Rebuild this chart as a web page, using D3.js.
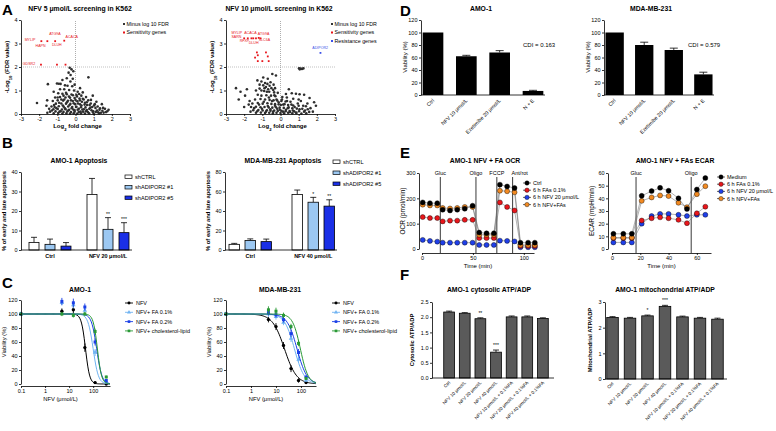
<!DOCTYPE html>
<html><head><meta charset="utf-8">
<script src="https://cdn.jsdelivr.net/npm/d3@7"></script>
<style>body{margin:0;background:#fff}svg{font-family:"Liberation Sans",Arial,sans-serif}</style>
</head><body>
<svg id="c" width="776" height="431"></svg>
<script>
// ---------------- DATA ----------------
// Panel A volcano (log2FC, -log10 FDR)
const VL_BLACK = [[-0.32,1.97],[-0.22,1.90],[-0.12,1.82],[-0.38,1.76],[-0.27,1.66],[-0.48,1.52],[-0.72,1.45],[-1.02,1.30],[-0.92,1.29],[-0.82,1.28],[-1.52,1.27],[-0.58,1.22],[-0.18,1.18],[0.71,1.56],[-2.12,0.47],[-1.56,0.58],[-0.62,1.05],[-0.35,1.02],[-0.08,1.0],[0.12,0.95],
[-0.95,0.88],[-0.72,0.86],[-0.48,0.84],[-0.22,0.83],[0.05,0.82],[0.32,0.78],[0.58,0.72],[-1.12,0.70],[-0.85,0.72],[-0.55,0.70],[-0.30,0.69],[-0.05,0.68],[0.22,0.66],[0.45,0.62],[0.85,0.60],[1.15,0.52],
[-1.25,0.55],[-0.98,0.58],[-0.68,0.57],[-0.42,0.56],[-0.15,0.55],[0.10,0.54],[0.35,0.52],[0.62,0.50],[1.45,0.42],[-1.08,0.44],[-0.78,0.45],[-0.52,0.44],[-0.28,0.43],[-0.02,0.42],[0.25,0.41],[0.50,0.40],[0.78,0.38],[1.02,0.36],
[-1.32,0.32],[-1.15,0.30],[-0.92,0.33],[-0.65,0.31],[-0.40,0.32],[-0.18,0.30],[0.05,0.31],[0.30,0.29],[0.55,0.28],[0.82,0.27],[1.10,0.26],[1.35,0.24],[1.62,0.22],
[-1.22,0.20],[-0.98,0.21],[-0.75,0.19],[-0.55,0.20],[-0.35,0.18],[-0.12,0.19],[0.12,0.18],[0.38,0.19],[0.62,0.17],[0.88,0.16],[1.18,0.15],[1.48,0.14],[1.75,0.12],
[-1.40,0.10],[-1.10,0.11],[-0.88,0.10],[-0.66,0.09],[-0.45,0.11],[-0.25,0.08],[-0.05,0.10],[0.18,0.09],[0.42,0.10],[0.68,0.08],[0.95,0.09],[1.25,0.07],[1.55,0.06],
[-1.20,0.03],[-0.95,0.04],[-0.72,0.02],[-0.50,0.03],[-0.30,0.02],[-0.10,0.03],[0.10,0.02],[0.30,0.03],[0.52,0.02],[0.75,0.03],[1.00,0.02],[1.30,0.03],
[-1.45,0.22],[-1.30,0.15],[-1.18,0.38],[-1.05,0.25],[-0.90,0.48],[-0.82,0.12],[-0.70,0.36],[-0.62,0.62],[-0.58,0.24],[-0.47,0.50],[-0.40,0.15],[-0.36,0.74],[-0.33,0.38],[-0.25,0.58],[-0.21,0.25],[-0.14,0.80],[-0.10,0.46],[-0.06,0.16],[0.00,0.60],[0.03,0.30],[0.08,0.75],[0.14,0.45],[0.18,0.22],[0.24,0.58],[0.28,0.10],[0.33,0.36],[0.40,0.65],[0.46,0.20],[0.52,0.48],[0.58,0.12],[0.64,0.38],[0.70,0.58],[0.76,0.22],[0.84,0.45],[0.92,0.30],[0.98,0.12],[1.06,0.42],[1.12,0.08],[1.22,0.32],[1.32,0.18],[1.40,0.05],[1.52,0.26],[1.68,0.08],[1.82,0.18],[-1.55,0.05],[-1.60,0.35],[-0.98,0.70],[-0.78,0.62],[-0.52,0.90],[-0.44,1.20],[-0.28,1.38],[-0.15,1.50],[-0.05,1.25],[0.25,1.10],[0.40,0.92],[0.20,0.85],[-0.66,0.78],[-0.85,1.05],[-1.20,0.95],[0.95,0.78]];
const VL_RED = [[-1.88,3.1],[-1.55,3.1],[-1.12,3.1],[-0.62,3.12],[-1.9,2.1],[-1.02,2.1],[-0.55,2.1]];
const VL_LABELS = [["MYLIP",-2.8,3.1],["ATG9A",-1.45,3.38],["ACACA",-0.55,3.22],["HAPN",-2.2,2.85],["DLUH",-1.3,2.88],["GDSR2",-2.9,2.08]];
const VR_BLACK = [[1.02,1.95],[1.10,1.93],[1.18,1.92],[1.26,1.94],[1.06,1.90],
[-0.45,1.70],[-0.25,1.64],[-1.27,1.43],[-1.05,1.38],[-0.85,1.32],[-0.72,1.28],[-0.95,1.22],[-0.60,1.20],[-0.80,1.15],[-0.50,1.10],[-1.15,1.08],[-0.68,1.05],[-0.40,1.02],[0.46,1.05],[-2.45,1.10],
[-0.90,0.98],[-0.62,0.95],[-0.35,0.92],[-0.15,0.90],[0.62,0.88],[0.85,0.86],[1.05,0.84],[1.30,0.82],[-1.95,0.78],[-2.30,0.62],[-1.70,0.55],[-1.25,0.82],[-1.05,0.78],[-0.78,0.80],[-0.52,0.78],[-0.28,0.76],[0.10,0.72],[0.35,0.70],[1.60,0.68],
[-1.40,0.62],[-1.10,0.64],[-0.85,0.62],[-0.60,0.60],[-0.38,0.58],[-0.18,0.57],[0.05,0.55],[0.28,0.53],[0.55,0.52],[1.85,0.50],
[-1.55,0.45],[-1.25,0.47],[-0.98,0.44],[-0.72,0.46],[-0.50,0.43],[-0.30,0.42],[-0.10,0.41],[0.15,0.40],[0.42,0.38],[0.70,0.36],[1.00,0.35],[1.40,0.33],
[-1.62,0.30],[-1.35,0.31],[-1.10,0.29],[-0.88,0.30],[-0.65,0.28],[-0.45,0.27],[-0.25,0.29],[-0.05,0.27],[0.18,0.26],[0.40,0.25],[0.65,0.24],[0.90,0.23],[1.20,0.22],[1.50,0.20],
[-1.50,0.16],[-1.22,0.17],[-0.98,0.15],[-0.75,0.16],[-0.55,0.14],[-0.35,0.15],[-0.15,0.13],[0.05,0.14],[0.28,0.12],[0.50,0.13],[0.75,0.11],[1.02,0.12],[1.30,0.10],[1.58,0.09],
[-1.35,0.05],[-1.08,0.06],[-0.85,0.04],[-0.62,0.05],[-0.42,0.03],[-0.22,0.05],[0.00,0.04],[0.20,0.03],[0.42,0.05],[0.65,0.03],[0.88,0.04],[1.15,0.02],[1.42,0.03],
[-1.45,0.25],[-1.28,0.12],[-1.18,0.40],[-1.02,0.22],[-0.92,0.52],[-0.80,0.10],[-0.70,0.34],[-0.64,0.70],[-0.56,0.20],[-0.46,0.55],[-0.40,0.10],[-0.34,0.80],[-0.30,0.35],[-0.22,0.62],[-0.18,0.22],[-0.10,0.50],[-0.04,0.18],[0.02,0.38],[0.08,0.62],[0.14,0.10],[0.22,0.42],[0.30,0.18],[0.36,0.55],[0.45,0.28],[0.52,0.08],[0.60,0.40],[0.68,0.15],[0.78,0.30],[0.85,0.06],[0.95,0.45],[1.05,0.20],[1.12,0.55],[1.25,0.35],[1.35,0.15],[1.48,0.45],[1.65,0.25],[1.78,0.10],[1.95,0.35],[-1.65,0.10],[-1.75,0.40],[-1.05,1.00],[-0.88,1.10],[-0.75,0.95],[-0.55,1.35],[-0.38,1.25],[-0.95,1.55],[-1.15,1.25],[-1.35,1.00],[-0.70,1.50],[-0.30,1.10],[0.70,0.65],[1.0,0.62],[0.30,0.85],[-2.0,0.30],[-2.2,0.95],[-1.85,1.05]];
const VR_RED = [[-2.0,3.22],[-1.8,3.22],[-1.6,3.22],[-1.5,3.22],[-1.35,3.22],[-1.2,3.24],[-1.1,3.22],[-1.3,2.62],[-1.25,2.5],[-0.8,2.62],[-0.7,2.45],[-1.25,2.25],[-1.0,2.25],[-0.65,2.25],[-1.4,2.4]];
const VR_LABELS = [["MYLIP",-2.7,3.42],["ACACA",-2.0,3.42],["ATG9A",-1.25,3.38],["SARN",-2.7,3.22],["RFXP",-2.25,3.08],["SLC6A",-1.2,3.12],["DLUH",-1.75,2.96]];
const VR_BLUE = [[2.2,2.6]];
const VR_BLUE_LABELS = [["ADIPOR2",1.75,2.75]];

// Panel B apoptosis
const B_SERIES = ["shCTRL","shADIPOR2 #1","shADIPOR2 #5"];
const B_AMO_GROUPS = ["Ctrl","NFV 20 μmol/L"];
const B_AMO_MEAN = [[3.9,2.9,2.0],[28.5,10.6,8.9]];
const B_AMO_ERR = [[2.6,2.7,1.8],[8.2,6.0,5.1]];
const B_AMO_STARS = [["","",""],["","**","***"]];
const B_MDA_GROUPS = ["Ctrl","NFV 40 μmol/L"];
const B_MDA_MEAN = [[5.8,9.8,8.6],[57,49,45]];
const B_MDA_ERR = [[1.0,1.6,2.6],[4.5,5.0,6.5]];
const B_MDA_STARS = [["","",""],["","*","**"]];

// Panel C dose response
const C_SERIES = ["NFV","NFV+ FA 0.1%","NFV+ FA 0.2%","NFV+ cholesterol-lipid"];
const C_AMO_CONC = [0.1,5,15,45,120,350];
const C_AMO_MEAN = [[100,104,106,52,2,0],[100,116,113,105,45,3],[100,118,116,110,60,5],[100,100,98,100,75,10]];
const C_AMO_ERR = [[0,4,5,6,2,0],[0,4,5,4,5,2],[0,5,6,5,5,2],[0,3,3,3,4,2]];
const C_AMO_IC50 = [48,100,140,150];
const C_AMO_HILL = [5,4,4,5];
const C_MDA_CONC = [0.1,5,10,20,40,80,160];
const C_MDA_MEAN = [[100,92,82,55,22,5,2],[100,100,96,88,65,35,5],[100,102,99,92,72,45,10],[100,106,104,98,82,58,8]];
const C_MDA_ERR = [[0,4,5,5,5,3,1],[0,4,4,4,5,5,2],[0,4,4,4,5,5,2],[0,5,5,4,4,4,2]];
const C_MDA_IC50 = [22,55,70,95];
const C_MDA_HILL = [1.8,2.2,2.2,2.8];

// Panel D viability
const D_CATS = ["Ctrl","NFV 10 μmol/L","Ezetimibe 20 μmol/L","N + E"];
const D_AMO_MEAN = [100,62,68,6.5];
const D_AMO_ERR = [0,1.5,3,1];
const D_MDA_MEAN = [100,80,72,33];
const D_MDA_ERR = [0,4.5,3,3.5];
const D_CDI = ["CDI = 0.163","CDI = 0.579"];

// Panel E Seahorse
const E_OCR_T = [0.7,7.8,15,20.3,27.5,34.6,42,49.7,56.2,63.4,70.6,76.5,83.6,90.9,96.7,104.2,110.8];
const E_OCR_NAMES = ["Ctrl","6 h FAs 0.1%","6 h NFV 20 μmol/L","6 h NFV+FAs"];
const E_OCR_VALS = [
 [184,181,181,155,152,155,159,171,65,62,62,254,247,241,25,25,25],
 [126,122,122,109,112,112,115,115,43,43,43,184,166,152,12,12,12],
 [36,32,29,25,25,25,25,25,16,16,16,33,32,30,7,7,7],
 [175,172,172,162,160,162,166,166,56,56,56,230,228,224,16,16,16]];
const E_OCR_INJ = [["Gluc",18],["Oligo",53],["FCCP",73.5],["Ant/rot",89]];
const E_ECAR_T = [1,8,14,21,28,34,40,47,53,60,66];
const E_ECAR_NAMES = ["Medium","6 h FAs 0.1%","6 h NFV 20 μmol/L","6 h NFV+FAs"];
const E_ECAR_VALS = [
 [12,12,12,42,45.7,48.3,46,40,31.6,47,56],
 [8.6,8.6,8.6,22.5,24.3,25,24.3,23,20.4,28.2,33.4],
 [5.2,5.2,5.2,20,26,27.7,27.7,27,26,27,27],
 [9,9,9,38,40.7,42.3,41.8,36.5,33,43.3,49.6]];
const E_ECAR_INJ = [["Gluc",17],["Oligo",56]];

// Panel F ATP/ADP
const F_CATS = ["Ctrl","NFV 10 μmol/L","NFV 20 μmol/L","NFV 40 μmol/L","NFV 10 μmol/L + 0.1%FA","NFV 20 μmol/L + 0.1%FA","NFV 40 μmol/L + 0.1%FA"];
const F_CYT_MEAN = [2.17,2.13,1.95,0.85,2.01,2.01,1.96];
const F_CYT_ERR = [0.03,0.02,0.03,0.07,0.03,0.03,0.02];
const F_CYT_STARS = ["","","**","***","","",""];
const F_MIT_MEAN = [2.40,2.37,2.46,2.83,2.42,2.37,2.33];
const F_MIT_ERR = [0.03,0.03,0.03,0.04,0.03,0.03,0.04];
const F_MIT_STARS = ["","","*","***","","",""];

// ---------------- DRAWING ----------------
const svg = d3.select('#c');
const FONT = '"Liberation Sans", Arial, sans-serif';
const TS = 5.5;

function txt(x, y, s, o = {}) {
  const t = svg.append('text').attr('x', x).attr('y', y)
    .attr('font-size', o.size || TS).attr('text-anchor', o.anchor || 'start')
    .attr('font-weight', o.bold ? 'bold' : 'normal').attr('fill', o.fill || '#000')
    .attr('font-family', FONT);
  if (o.rot) t.attr('transform', `rotate(${o.rot},${x},${y})`);
  if (Array.isArray(s)) {
    s.forEach(p => {
      const ts = t.append('tspan').text(p[0]);
      if (p[1] === 'sub') ts.attr('baseline-shift', 'sub').attr('font-size', (o.size || TS) * 0.7);
    });
  } else t.text(s);
  return t;
}
function styleAx(g) {
  g.selectAll('path,line').attr('stroke', '#000').attr('stroke-width', 0.8);
  g.selectAll('text').attr('font-size', TS).attr('font-family', FONT).attr('fill', '#000');
  g.attr('font-family', null).attr('font-size', null);
  return g;
}
function axLeft(scale, x, ticks, fmt) {
  return styleAx(svg.append('g').attr('transform', `translate(${x},0)`)
    .call(d3.axisLeft(scale).tickValues(ticks).tickSize(2).tickSizeOuter(0).tickPadding(1.5).tickFormat(fmt || (d => d))));
}
function axBottom(scale, y, ticks, fmt) {
  return styleAx(svg.append('g').attr('transform', `translate(0,${y})`)
    .call(d3.axisBottom(scale).tickValues(ticks).tickSize(2).tickSizeOuter(0).tickPadding(1.5).tickFormat(fmt || (d => d))));
}
function panelLetter(x, y, s) { txt(x, y, s, { size: 15, bold: true }); }

// ---------- A ----------
function volcano(o) {
  const x = d3.scaleLinear([-3, 3], [o.x0, o.x1]);
  const y = d3.scaleLinear([0, 4], [o.yb, o.yt]);
  svg.append('line').attr('x1', x(0)).attr('x2', x(0)).attr('y1', y(0)).attr('y2', y(4))
    .attr('stroke', '#777').attr('stroke-width', 0.6).attr('stroke-dasharray', '1,1');
  svg.append('line').attr('x1', x(-3)).attr('x2', x(3)).attr('y1', y(2)).attr('y2', y(2))
    .attr('stroke', '#999').attr('stroke-width', 0.6).attr('stroke-dasharray', '1,1');
  svg.append('g').selectAll('circle').data(o.black).join('circle')
    .attr('cx', d => x(d[0])).attr('cy', d => y(d[1])).attr('r', 1.3).attr('fill', '#2e2e2e');
  svg.append('g').selectAll('rect').data(o.red).join('rect')
    .attr('x', d => x(d[0]) - 0.9).attr('y', d => y(d[1]) - 0.9).attr('width', 1.8).attr('height', 1.8).attr('fill', '#e8151b');
  o.labels.forEach(l => txt(x(l[1]), y(l[2]), l[0], { size: 3.6, fill: '#e8151b' }));
  if (o.blue) {
    svg.append('g').selectAll('rect').data(o.blue).join('rect')
      .attr('x', d => x(d[0]) - 0.9).attr('y', d => y(d[1]) - 0.9).attr('width', 1.8).attr('height', 1.8).attr('fill', '#3b4fe8');
    o.blueLabels.forEach(l => txt(x(l[1]), y(l[2]), l[0], { size: 3.6, fill: '#3b4fe8' }));
  }
  axLeft(y, o.x0, [0, 1, 2, 3, 4]);
  axBottom(x, o.yb, [-3, -2, -1, 0, 1, 2, 3]);
  txt((o.x0 + o.x1) / 2 + 2, o.yb + 14, [["Log", ""], ["2", "sub"], [" fold change", ""]], { size: 6, bold: true, anchor: 'middle' });
  txt(o.x0 - 12, (o.yb + o.yt) / 2, [["-Log", ""], ["10", "sub"], [" (FDR value)", ""]], { size: 6, bold: true, anchor: 'middle', rot: -90 });
  txt(o.tx, 11, o.title, { size: 6.8, bold: true, anchor: 'middle' });
  o.legend.forEach((l, i) => {
    svg.append('rect').attr('x', o.lx).attr('y', 23 + i * 8.5).attr('width', 2).attr('height', 2).attr('fill', l[1]);
    txt(o.lx + 3.5, 25.8 + i * 8.5, l[0], { size: 5.3 });
  });
}
volcano({ x0: 21, x1: 130, yb: 114, yt: 20, black: VL_BLACK, red: VL_RED, labels: VL_LABELS,
  title: "NFV 5 μmol/L screening in K562", tx: 80, lx: 123,
  legend: [["Minus log 10 FDR", "#333"], ["Sensitivity genes", "#e8151b"]] });
volcano({ x0: 226, x1: 335, yb: 114, yt: 20, black: VR_BLACK, red: VR_RED, labels: VR_LABELS,
  blue: VR_BLUE, blueLabels: VR_BLUE_LABELS,
  title: "NFV 10 μmol/L screening in K562", tx: 279, lx: 331,
  legend: [["Minus log 10 FDR", "#333"], ["Sensitivity genes", "#e8151b"], ["Resistance genes", "#3b4fe8"]] });
panelLetter(2, 15, "A");

// ---------- B ----------
const B_COLORS = ["#ffffff", "#9cc8f2", "#1a2fe6"];
function apoptosis(o) {
  const y = d3.scaleLinear([0, o.ymax], [250, 172]);
  const x0 = d3.scaleBand(o.groups, [o.ax, o.ax + 2 * o.gstep]).paddingInner(0).paddingOuter(0);
  const x1 = d3.scaleBand(B_SERIES, [o.off, o.off + 2 * 16 + o.bw]).paddingInner(1 - o.bw / 16).paddingOuter(0);
  o.groups.forEach((g, gi) => {
    B_SERIES.forEach((s, si) => {
      const bx = x0(g) + x1(s), bw = x1.bandwidth();
      const v = o.mean[gi][si], e = o.err[gi][si];
      const cx = bx + bw / 2;
      svg.append('line').attr('x1', cx).attr('x2', cx).attr('y1', y(v)).attr('y2', y(v + e)).attr('stroke', '#000').attr('stroke-width', 0.8);
      svg.append('line').attr('x1', cx - 3).attr('x2', cx + 3).attr('y1', y(v + e)).attr('y2', y(v + e)).attr('stroke', '#000').attr('stroke-width', 0.8);
      svg.append('rect').attr('x', bx).attr('y', y(v)).attr('width', bw).attr('height', y(0) - y(v))
        .attr('fill', B_COLORS[si]).attr('stroke', '#000').attr('stroke-width', 0.8);
      if (o.stars[gi][si]) txt(cx, y(v + e) - 1.5, o.stars[gi][si], { size: 5, anchor: 'middle' });
    });
    txt(x0(g) + o.off + 16 + o.bw / 2, 258, g, { size: 5.5, anchor: 'middle', bold: true });
  });
  axLeft(y, o.ax, d3.range(0, o.ymax + 1, o.ymax / 4));
  svg.append('line').attr('x1', o.ax).attr('x2', o.ax + 2 * o.gstep - o.trim).attr('y1', 250).attr('y2', 250).attr('stroke', '#000').attr('stroke-width', 0.8);
  txt(o.tx, 163, o.title, { size: 6.8, bold: true, anchor: 'middle' });
  txt(o.ax - 15, 211, "% of early and late apoptosis", { size: 5.8, bold: true, anchor: 'middle', rot: -90 });
  B_SERIES.forEach((s, i) => {
    svg.append('rect').attr('x', o.lx).attr('y', o.ly + i * o.ls - 3).attr('width', 7).attr('height', 3.5)
      .attr('fill', B_COLORS[i]).attr('stroke', '#000').attr('stroke-width', 0.7);
    txt(o.lx + 10, o.ly + i * o.ls + 0.5, s, { size: 5.6 });
  });
}
apoptosis({ ax: 21, gstep: 58, off: 8, bw: 10, ymax: 40, groups: B_AMO_GROUPS, mean: B_AMO_MEAN, err: B_AMO_ERR, stars: B_AMO_STARS,
  title: "AMO-1 Apoptosis", tx: 79, lx: 125, ly: 178, ls: 10.5, trim: 5 });
apoptosis({ ax: 225, gstep: 63, off: 4, bw: 10.5, ymax: 80, groups: B_MDA_GROUPS, mean: B_MDA_MEAN, err: B_MDA_ERR, stars: B_MDA_STARS,
  title: "MDA-MB-231 Apoptosis", tx: 283, lx: 333, ly: 163, ls: 11, trim: 14 });
panelLetter(2, 148, "B");

// ---------- C ----------
const C_COLORS = ["#000000", "#6fb3f2", "#1a3fe6", "#2a9a36"];
const C_SYMBOLS = [d3.symbolCircle, d3.symbolTriangle, d3.symbolSquare, d3.symbolSquare];
function dose(o) {
  const x = d3.scaleLog([0.1, o.xmax], [o.ax, o.xend]);
  const y = d3.scaleLinear([0, 120], [384, 300]);
  o.mean.forEach((ser, si) => {
    const pts = d3.range(0, 101).map(i => Math.pow(10, -1 + i * (Math.log10(o.xmax) + 1) / 100));
    const line = d3.line().x(c => x(c)).y(c => y(100 / (1 + Math.pow(c / o.ic50[si], o.hill[si])))).curve(d3.curveLinear);
    svg.append('path').attr('d', line(pts)).attr('fill', 'none').attr('stroke', C_COLORS[si]).attr('stroke-width', 1);
    ser.forEach((v, i) => {
      const cx = x(o.conc[i]), e = o.err[si][i];
      if (e > 0) svg.append('line').attr('x1', cx).attr('x2', cx).attr('y1', y(v - e)).attr('y2', y(v + e)).attr('stroke', C_COLORS[si]).attr('stroke-width', 0.9);
      svg.append('path').attr('d', d3.symbol(C_SYMBOLS[si], 9)()).attr('transform', `translate(${cx},${y(v)})`).attr('fill', C_COLORS[si]);
    });
  });
  axLeft(y, o.ax, [0, 20, 40, 60, 80, 100, 120]);
  axBottom(x, 386, [0.1, 1, 10, 100], d => d);
  txt(o.tx, 292, o.title, { size: 6.8, bold: true, anchor: 'middle' });
  txt((o.ax + o.xend) / 2 - 5, 401, "NFV (μmol/L)", { size: 5.8, anchor: 'middle' });
  txt(o.ax - 15, 342, "Viability (%)", { size: 5.8, anchor: 'middle', rot: -90 });
  C_SERIES.forEach((s, i) => {
    const ly = 305 + i * 9.3;
    svg.append('line').attr('x1', o.lx).attr('x2', o.lx + 8).attr('y1', ly - 2).attr('y2', ly - 2).attr('stroke', C_COLORS[i]).attr('stroke-width', 0.9);
    svg.append('path').attr('d', d3.symbol(C_SYMBOLS[i], 7)()).attr('transform', `translate(${o.lx + 4},${ly - 2})`).attr('fill', C_COLORS[i]);
    txt(o.lx + 11, ly, s, { size: 5.5 });
  });
}
dose({ ax: 21, xend: 110, xmax: 500, conc: C_AMO_CONC, mean: C_AMO_MEAN, err: C_AMO_ERR, ic50: C_AMO_IC50, hill: C_AMO_HILL, title: "AMO-1", tx: 80, lx: 125 });
dose({ ax: 226, xend: 316, xmax: 400, conc: C_MDA_CONC, mean: C_MDA_MEAN, err: C_MDA_ERR, ic50: C_MDA_IC50, hill: C_MDA_HILL, title: "MDA-MB-231", tx: 280, lx: 332 });
panelLetter(2, 288, "C");

// ---------- D ----------
function viab(o) {
  const y = d3.scaleLinear([0, 120], [95, 20]);
  const x = d3.scaleBand(D_CATS, [o.ax, o.xend]).paddingInner(0.38).paddingOuter(0.05);
  D_CATS.forEach((c, i) => {
    const cx = x(c) + x.bandwidth() / 2, v = o.mean[i], e = o.err[i];
    if (e > 0) {
      svg.append('line').attr('x1', cx).attr('x2', cx).attr('y1', y(v)).attr('y2', y(v + e)).attr('stroke', '#000').attr('stroke-width', 0.8);
      svg.append('line').attr('x1', cx - 4).attr('x2', cx + 4).attr('y1', y(v + e)).attr('y2', y(v + e)).attr('stroke', '#000').attr('stroke-width', 0.8);
    }
    svg.append('rect').attr('x', x(c)).attr('y', y(v)).attr('width', x.bandwidth()).attr('height', y(0) - y(v)).attr('fill', '#000');
    txt(cx + 1.5, 101, c, { size: 5.2, anchor: 'end', rot: -45 });
  });
  axLeft(y, o.ax, [0, 20, 40, 60, 80, 100, 120]);
  svg.append('line').attr('x1', o.ax).attr('x2', o.xend).attr('y1', 95).attr('y2', 95).attr('stroke', '#000').attr('stroke-width', 0.8);
  txt(o.tx, 11, o.title, { size: 6.8, bold: true, anchor: 'middle' });
  txt(o.ax - 14, 57, "Viability (%)", { size: 6, anchor: 'middle', rot: -90 });
  txt(o.cx, 47, o.cdi, { size: 6 });
}
viab({ ax: 421, xend: 545, mean: D_AMO_MEAN, err: D_AMO_ERR, title: "AMO-1", tx: 481, cdi: D_CDI[0], cx: 523 });
viab({ ax: 604, xend: 714, mean: D_MDA_MEAN, err: D_MDA_ERR, title: "MDA-MB-231", tx: 651, cdi: D_CDI[1], cx: 688 });
panelLetter(400, 16, "D");

// ---------- E ----------
const E_COLORS = ["#000000", "#e8161b", "#1f3fe8", "#f28a22"];
function seahorse(o) {
  const x = d3.scaleLinear([0, o.xmax], [o.x0, o.x1]);
  const y = d3.scaleLinear([0, o.ymax], [249, 173]);
  o.inj.forEach(j => {
    svg.append('line').attr('x1', x(j[1])).attr('x2', x(j[1])).attr('y1', 177).attr('y2', 253).attr('stroke', '#222').attr('stroke-width', 0.9);
    txt(x(j[1]) + (j[0] === 'Ant/rot' ? -1 : 0), 175, j[0], { size: 5.5, anchor: j[0] === 'Ant/rot' ? 'start' : 'middle' });
  });
  [0, 3, 1, 2].forEach(si => {
    const vals = o.vals[si];
    const line = d3.line().x((v, i) => x(o.t[i])).y(v => y(v));
    svg.append('path').attr('d', line(vals)).attr('fill', 'none').attr('stroke', '#666').attr('stroke-width', 0.5);
  });
  [2, 1, 3, 0].forEach(si => {
    svg.append('g').selectAll('circle').data(o.vals[si]).join('circle')
      .attr('cx', (v, i) => x(o.t[i])).attr('cy', v => y(v)).attr('r', 2.5)
      .attr('fill', E_COLORS[si]).attr('stroke', '#000').attr('stroke-width', 0.4);
  });
  axLeft(y, o.yax, o.yticks);
  axBottom(x, 253, o.xticks);
  txt(o.tx, 163, o.title, { size: 6.8, bold: true, anchor: 'middle' });
  txt((o.x0 + o.x1) / 2, 268, "Time (min)", { size: 6, anchor: 'middle' });
  txt(o.yax - 14, 211, o.ylab, { size: 6.5, anchor: 'middle', rot: -90 });
  o.names.forEach((n, i) => {
    const ly = o.ly + i * 7.2;
    svg.append('line').attr('x1', o.lx - 4).attr('x2', o.lx + 4).attr('y1', ly).attr('y2', ly).attr('stroke', '#000').attr('stroke-width', 0.6);
    svg.append('circle').attr('cx', o.lx).attr('cy', ly).attr('r', 2.2).attr('fill', E_COLORS[i]).attr('stroke', '#000').attr('stroke-width', 0.4);
    txt(o.lx + 6, ly + 2, n, { size: 5.5 });
  });
}
seahorse({ x0: 422, x1: 534, xmax: 110, ymax: 300, yax: 419, t: E_OCR_T, vals: E_OCR_VALS, names: E_OCR_NAMES, inj: E_OCR_INJ,
  yticks: [0, 100, 200, 300], xticks: [0, 50, 100], title: "AMO-1 NFV + FA OCR", tx: 485, ylab: "OCR (pmol/min)", lx: 527, ly: 183 });
seahorse({ x0: 612, x1: 711, xmax: 70, ymax: 60, yax: 608, t: E_ECAR_T, vals: E_ECAR_VALS, names: E_ECAR_NAMES, inj: E_ECAR_INJ,
  yticks: [0, 10, 20, 30, 40, 50, 60], xticks: [0, 20, 40, 60], title: "AMO-1 NFV + FAs ECAR", tx: 675, ylab: "ECAR (mpH/min)", lx: 721, ly: 177 });
panelLetter(400, 158, "E");

// ---------- F ----------
function atp(o) {
  const y = d3.scaleLinear([0, o.ymax], [o.yb, 302]);
  const x = d3.scaleBand(F_CATS, [o.ax, o.xend]).paddingInner(o.pi).paddingOuter(o.po);
  F_CATS.forEach((c, i) => {
    const cx = x(c) + x.bandwidth() / 2, v = o.mean[i], e = o.err[i];
    svg.append('line').attr('x1', cx).attr('x2', cx).attr('y1', y(v)).attr('y2', y(v + e)).attr('stroke', '#000').attr('stroke-width', 0.8);
    svg.append('line').attr('x1', cx - 3).attr('x2', cx + 3).attr('y1', y(v + e)).attr('y2', y(v + e)).attr('stroke', '#000').attr('stroke-width', 0.8);
    svg.append('rect').attr('x', x(c)).attr('y', y(v)).attr('width', x.bandwidth()).attr('height', y(0) - y(v))
      .attr('fill', '#5a5a5a').attr('stroke', '#000').attr('stroke-width', 0.8);
    if (o.stars[i]) txt(cx, y(v + e) - 3, o.stars[i], { size: 5, anchor: 'middle' });
    txt(cx + 1.5, o.yb + 5, c, { size: 4.6, anchor: 'end', rot: -45 });
  });
  axLeft(y, o.ax, o.ticks, o.fmt);
  svg.append('line').attr('x1', o.ax).attr('x2', o.xline).attr('y1', o.yb).attr('y2', o.yb).attr('stroke', '#000').attr('stroke-width', 0.8);
  txt(o.tx, 292, o.title, { size: 6.8, bold: true, anchor: 'middle' });
  txt(o.ax - o.lo, 340, o.ylab, { size: 5.8, bold: true, anchor: 'middle', rot: -90 });
}
atp({ ax: 432, xend: 560, xline: 554, pi: 0.31, po: 0.75, ymax: 2.5, yb: 378, mean: F_CYT_MEAN, err: F_CYT_ERR, stars: F_CYT_STARS,
  ticks: [0, 0.5, 1, 1.5, 2, 2.5], fmt: d3.format('.1f'), title: "AMO-1 cytosolic ATP/ADP", tx: 489, ylab: "Cytosolic ATP/ADP", lo: 18 });
atp({ ax: 605, xend: 725, xline: 727, pi: 0.34, po: 0.1, ymax: 3, yb: 379, mean: F_MIT_MEAN, err: F_MIT_ERR, stars: F_MIT_STARS,
  ticks: [0, 1, 2, 3], fmt: d3.format('d'), title: "AMO-1 mitochondrial ATP/ADP", tx: 665, ylab: "Mitochondrial ATP/ADP", lo: 13 });
panelLetter(400, 280, "F");
</script></body></html>
